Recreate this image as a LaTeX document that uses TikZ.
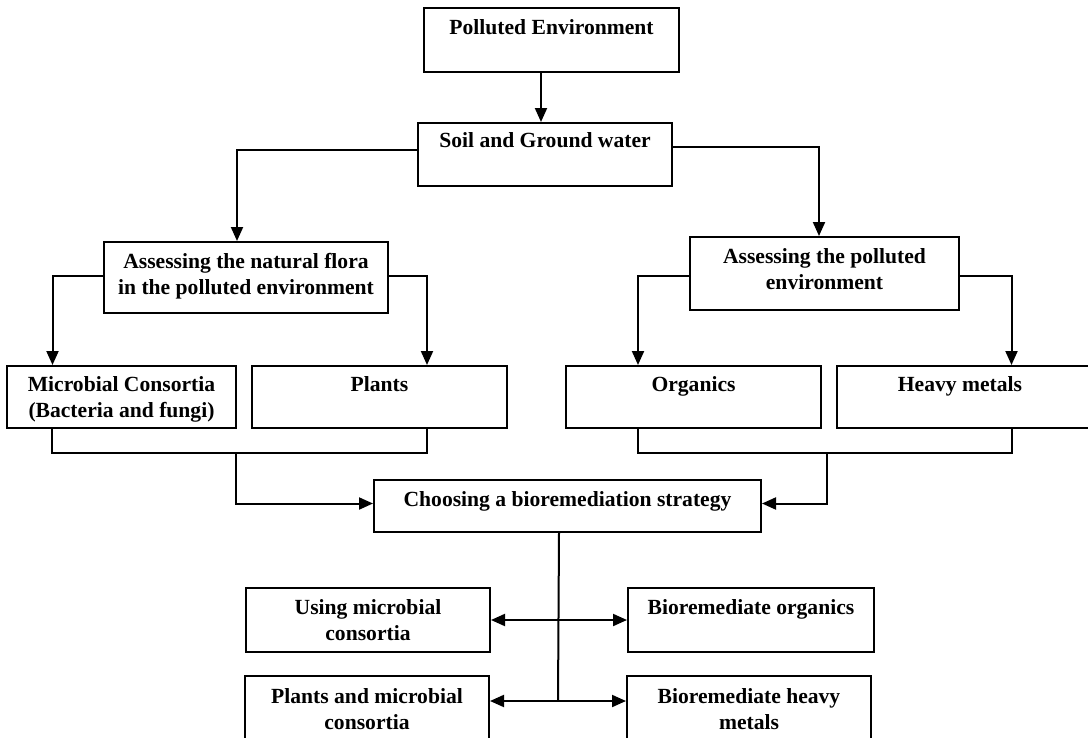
\documentclass[tikz,border=0pt]{standalone}
\usepackage{fontspec}
\setmainfont{Liberation Serif}
\usetikzlibrary{arrows.meta}
\newcommand\twoline[2]{\begin{tabular}[t]{@{}c@{}}#1\\#2\end{tabular}}
\begin{document}
\begin{tikzpicture}[x=1pt,y=-1pt,
  box/.style={draw=black, line width=2pt, anchor=north west, inner sep=0pt},
  txt/.style={anchor=base, inner sep=0pt, font=\fontsize{21.6}{26}\selectfont\bfseries},
  ln/.style={line width=2pt},
  arr/.style={line width=2pt, -{Triangle[length=14pt,width=12pt]}},
  darr/.style={line width=2pt, {Triangle[length=14pt,width=12pt]}-{Triangle[length=14pt,width=12pt]}}]
\useasboundingbox (0,0) rectangle (1088,737);
\fill[white] (0,0) rectangle (1088,737);
\clip (0,0) rectangle (1088,737);
% boxes
\node[box, minimum width=255pt, minimum height=64pt] (pe) at (423,7) {};
\node[box, minimum width=254pt, minimum height=63pt] (soil) at (417,122) {};
\node[box, minimum width=284pt, minimum height=71pt] (nf) at (103,241) {};
\node[box, minimum width=269pt, minimum height=73pt] (pol) at (689,236) {};
\node[box, minimum width=229pt, minimum height=62pt] (mc) at (6,365) {};
\node[box, minimum width=255pt, minimum height=62pt] (pl) at (251,365) {};
\node[box, minimum width=255pt, minimum height=62pt] (org) at (565,365) {};
\node[box, minimum width=259pt, minimum height=62pt] (hm) at (836,365) {};
\node[box, minimum width=387pt, minimum height=52pt] (ch) at (373,479) {};
\node[box, minimum width=244pt, minimum height=64pt] (um) at (245,587) {};
\node[box, minimum width=246pt, minimum height=64pt] (bo) at (627,587) {};
\node[box, minimum width=244pt, minimum height=85pt] (pm) at (244,675) {};
\node[box, minimum width=244pt, minimum height=85pt] (bh) at (626,675) {};
% texts
\node[txt] (pe-t) at (pe.north |- 0,34) {Polluted Environment};
\node[txt] (soil-t) at (soil.north |- 0,147) {Soil and Ground water};
\node[txt] (nf-t) at (nf.north |- 0,268) {\twoline{Assessing the natural flora}{in the polluted environment}};
\node[txt] (pol-t) at (pol.north |- 0,263) {\twoline{Assessing the polluted}{environment}};
\node[txt] (mc-t) at (mc.north |- 0,391) {\twoline{Microbial Consortia}{(Bacteria and fungi)}};
\node[txt] (pl-t) at (pl.north |- 0,391) {Plants};
\node[txt] (org-t) at (org.north |- 0,391) {Organics};
\node[txt] (hm-t) at (960,391) {Heavy metals};
\node[txt] (ch-t) at (ch.north |- 0,506) {Choosing a bioremediation strategy};
\node[txt] (um-t) at (um.north |- 0,614) {\twoline{Using microbial}{consortia}};
\node[txt] (bo-t) at (bo.north |- 0,614) {Bioremediate organics};
\node[txt] (pm-t) at (pm.north |- 0,703) {\twoline{Plants and microbial}{consortia}};
\node[txt] (bh-t) at (bh.north |- 0,703) {\twoline{Bioremediate heavy}{metals}};
% junction points
\coordinate (jl) at (236,453);
\coordinate (jr) at (827,453);
\coordinate (jb) at (558,701);
% connectors
\draw[arr] ([xshift=-10.5pt]pe.south) -- ([xshift=-10.5pt]pe.south |- soil.north);
\draw[arr] ([yshift=4.5pt]soil.west) -| ([xshift=-9pt]nf.north);
\draw[arr] ([yshift=7.5pt]soil.east) -| ([xshift=-5.5pt]pol.north);
\draw[arr] ([yshift=1.5pt]nf.west) -| ([xshift=-69pt]mc.north);
\draw[arr] ([yshift=1.5pt]nf.east) -| ([xshift=47.5pt]pl.north);
\draw[arr] ([yshift=-2.5pt]pol.west) -| ([xshift=-55.5pt]org.north);
\draw[arr] ([yshift=-2.5pt]pol.east) -| ([xshift=45pt]hm.north);
\draw[ln] ([xshift=-70pt]mc.south) |- (jl) -| ([xshift=47.5pt]pl.south);
\draw[arr] (jl) |- ([yshift=2.5pt]ch.west);
\draw[ln] ([xshift=-55.5pt]org.south) |- (jr) -| ([xshift=45.5pt]hm.south);
\draw[arr] (jr) |- ([yshift=2.5pt]ch.east);
\draw[ln] ([xshift=-8.5pt]ch.south) -- (jb);
\draw[darr] (um.east) -- (bo.west);
\draw[darr] (jb -| pm.east) -- (jb -| bh.west);
\end{tikzpicture}
\end{document}
